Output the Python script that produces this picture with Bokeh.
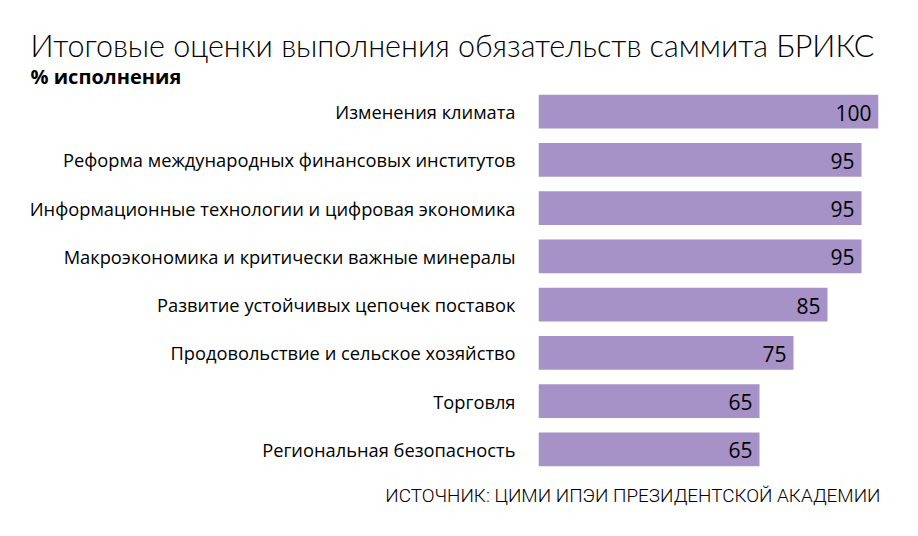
from bokeh.plotting import figure
from bokeh.models import ColumnDataSource, Title, FactorRange, Range1d
from bokeh.embed import file_html
from bokeh.resources import INLINE
from bokeh.core.properties import value

## data ##

categories = [
    "Изменения климата",
    "Реформа международных финансовых институтов",
    "Информационные технологии и цифровая экономика",
    "Макроэкономика и критически важные минералы",
    "Развитие устойчивых цепочек поставок",
    "Продовольствие и сельское хозяйство",
    "Торговля",
    "Региональная безопасность",
]
scores = [100, 95, 95, 95, 85, 75, 65, 65]

title_text = "Итоговые оценки выполнения обязательств саммита БРИКС"
subtitle_text = "% исполнения"
source_text = "ИСТОЧНИК: ЦИМИ ИПЭИ ПРЕЗИДЕНТСКОЙ АКАДЕМИИ"

FONT = "Open Sans"
BAR_COLOR = "#a692c7"

source = ColumnDataSource(dict(
    cat=categories,
    score=scores,
    label=[str(s) for s in scores],
))

p = figure(width=918, height=536,
           y_range=FactorRange(*reversed(categories)),
           x_range=Range1d(0, 100),
           output_backend="svg", toolbar_location=None,
           title=None,
           min_border_left=538, min_border_right=40,
           min_border_top=87, min_border_bottom=63)

p.hbar(y="cat", left=0, right="score", height=0.7, source=source,
       fill_color=BAR_COLOR, line_color=None)

p.text(x="score", y="cat", text="label", source=source,
       x_offset=-7, y_offset=1, text_align="right", text_baseline="middle",
       text_font=value(FONT), text_font_size="21px", text_color="black")

p.xaxis.visible = False
p.xgrid.visible = False
p.ygrid.visible = False
p.outline_line_color = None
p.yaxis.axis_line_color = None
p.yaxis.major_tick_line_color = None
p.yaxis.minor_tick_line_color = None
p.yaxis.major_tick_out = 0
p.yaxis.major_label_standoff = 23
p.yaxis.major_label_text_font = FONT
p.yaxis.major_label_text_font_size = "18.3px"
p.yaxis.major_label_text_color = "black"

# title, subtitle and source line
subtitle = Title(text=subtitle_text, align="left", offset=-508, standoff=-4,
                 text_font=FONT, text_font_style="bold",
                 text_font_size="20px", text_color="black")
title = Title(text=title_text, align="left", offset=-508, standoff=0,
              text_font="Lato Light", text_font_style="normal",
              text_font_size="30.5px", text_color="black")
src = Title(text=source_text, align="right", offset=-2, standoff=16,
            text_font="Roboto Light", text_font_style="normal",
            text_font_size="18.9px", text_color="black")
p.add_layout(subtitle, "above")
p.add_layout(title, "above")
p.add_layout(src, "below")

open("out.html", "w").write(file_html(p, INLINE))
